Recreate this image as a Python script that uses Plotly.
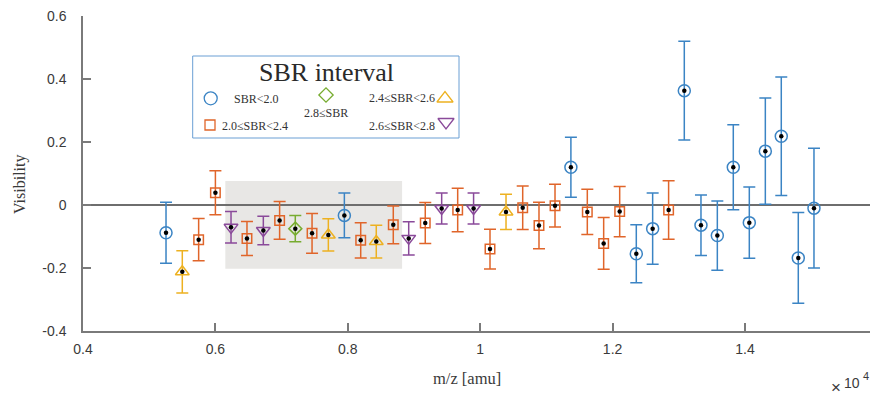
import plotly.graph_objects as go

# ---------------- data (m/z in amu, visibility, error) ----------------
sbr_lt20_mz = [5254, 7948, 11370, 12358, 12605, 13083, 13335, 13582, 13823, 14065, 14307, 14548, 14805, 15042]
sbr_lt20_vis = [-0.088, -0.033, 0.120, -0.155, -0.075, 0.363, -0.064, -0.097, 0.120, -0.056, 0.171, 0.218, -0.168, -0.010]
sbr_lt20_err = [0.097, 0.071, 0.095, 0.092, 0.113, 0.157, 0.096, 0.110, 0.135, 0.113, 0.169, 0.188, 0.144, 0.190]

sbr_20_24_mz = [5747, 6000, 6477, 6970, 7460, 8195, 8687, 9170, 9660, 10148, 10642, 10888, 11130, 11618, 11865, 12107, 12846]
sbr_20_24_vis = [-0.110, 0.039, -0.106, -0.049, -0.090, -0.112, -0.063, -0.057, -0.016, -0.140, -0.009, -0.065, -0.002, -0.022, -0.122, -0.021, -0.016]
sbr_20_24_err = [0.067, 0.070, 0.054, 0.060, 0.063, 0.056, 0.060, 0.065, 0.069, 0.063, 0.069, 0.074, 0.068, 0.072, 0.082, 0.080, 0.093]

sbr_24_26_mz = [5500, 7706, 8430, 10390]
sbr_24_26_vis = [-0.212, -0.095, -0.116, -0.022]
sbr_24_26_err = [0.067, 0.051, 0.052, 0.056]

sbr_26_28_mz = [6236, 6724, 8920, 9418, 9900]
sbr_26_28_vis = [-0.071, -0.081, -0.106, -0.011, -0.011]
sbr_26_28_err = [0.050, 0.045, 0.053, 0.049, 0.049]

sbr_ge28_mz = [7207]
sbr_ge28_vis = [-0.075]
sbr_ge28_err = [0.042]

highlight_mz = [6150, 8820]
highlight_vis = [-0.202, 0.076]

x_tick_vals = [4000, 6000, 8000, 10000, 12000, 14000]
x_tick_text = ["0.4", "0.6", "0.8", "1", "1.2", "1.4"]
y_tick_vals = [-0.4, -0.2, 0, 0.2, 0.4, 0.6]
y_tick_text = ["-0.4", "-0.2", "0", "0.2", "0.4", "0.6"]

legend_labels = ["SBR<2.0", "2.0≤SBR<2.4", "2.4≤SBR<2.6", "2.6≤SBR<2.8", "2.8≤SBR"]

# ---------------- styling ----------------
BLUE = "#3b84c4"
ORANGE = "#e0652a"
YELLOW = "#edb120"
PURPLE = "#8a4a9a"
GREEN = "#77ac30"
SERIF = "Liberation Serif"
SANS = "Liberation Sans"
AXIS = "#7a7a7a"
TXT = "#3a3a3a"

# page pixel geometry of the plotting area (page body has an 8px margin)
PX_L, PX_R, PX_T, PX_B = 83, 878, 16, 331


def px(xp):
    return (xp - PX_L) / (PX_R - PX_L)


def py(yp):
    return (PX_B - yp) / (PX_B - PX_T)


series = [
    (sbr_lt20_mz, sbr_lt20_vis, sbr_lt20_err, BLUE, "circle-open", 12),
    (sbr_20_24_mz, sbr_20_24_vis, sbr_20_24_err, ORANGE, "square-open", 9.5),
    (sbr_24_26_mz, sbr_24_26_vis, sbr_24_26_err, YELLOW, "triangle-up-open", 12),
    (sbr_26_28_mz, sbr_26_28_vis, sbr_26_28_err, PURPLE, "triangle-down-open", 12),
    (sbr_ge28_mz, sbr_ge28_vis, sbr_ge28_err, GREEN, "diamond-open", 10),
]

fig = go.Figure()

for (mx, vis, err, col, sym, sz), name in zip(series, legend_labels):
    fig.add_trace(go.Scatter(
        x=mx, y=vis, mode="markers", name=name, showlegend=False,
        marker=dict(symbol=sym, size=sz, color=col, line=dict(color=col, width=1.5)),
        error_y=dict(type="data", array=err, visible=True, color=col, thickness=1.5, width=6),
    ))
    fig.add_trace(go.Scatter(
        x=mx, y=vis, mode="markers", showlegend=False, hoverinfo="skip",
        marker=dict(symbol="circle", size=4.5, color="black"),
    ))

# highlighted region
fig.add_shape(type="rect", xref="x", yref="y",
              x0=highlight_mz[0], x1=highlight_mz[1], y0=highlight_vis[0], y1=highlight_vis[1],
              fillcolor="#e8e7e5", line=dict(width=0), layer="below")

# ---------------- manual legend (pixel coordinate overlay axes) ----------------
leg_items = [
    (210.7, 98.3, BLUE, "circle-open", 13),
    (210.0, 125.0, ORANGE, "square-open", 10),
    (445.0, 98.5, YELLOW, "triangle-up-open", 14),
    (446.0, 122.0, PURPLE, "triangle-down-open", 14),
    (326.0, 95.0, GREEN, "diamond-open", 11),
]
for lx, ly, col, sym, sz in leg_items:
    fig.add_trace(go.Scatter(
        x=[lx], y=[ly], xaxis="x2", yaxis="y2", mode="markers", showlegend=False,
        hoverinfo="skip",
        marker=dict(symbol=sym, size=sz, color=col, line=dict(color=col, width=1.3)),
    ))

fig.add_shape(type="rect", xref="paper", yref="paper", x0=px(192.7), x1=px(459), y0=py(138), y1=py(56),
              line=dict(color="#6a9fd4", width=1), fillcolor="rgba(255,255,255,0)", layer="below")

leg_font = dict(family=SERIF, size=12, color="#333333")


def note(x, y, text, font, xanchor="center", **kw):
    fig.add_annotation(x=px(x), y=py(y), xref="paper", yref="paper", text=text, showarrow=False,
                       font=font, xanchor=xanchor, yanchor="middle", borderpad=0, **kw)


note(326.5, 72, "SBR interval", dict(family=SERIF, size=26, color="#2a2a2a"))
note(233, 99, legend_labels[0], leg_font, "left")
note(220.5, 126, legend_labels[1], leg_font, "left")
note(436, 98.5, legend_labels[2], leg_font, "right")
note(436, 125.5, legend_labels[3], leg_font, "right")
note(325.5, 112.5, legend_labels[4], leg_font, "center")

# axis titles and exponent
note(467, 379, "m/z [amu]", dict(family=SERIF, size=16.5, color=TXT))
note(20, 184, "Visibility", dict(family=SERIF, size=16, color=TXT), textangle=-90)
note(836, 387, "×", dict(family=SANS, size=17, color=TXT))
note(843, 383, "10", dict(family=SANS, size=14, color=TXT), "left")
note(862, 376, "4", dict(family=SANS, size=11, color=TXT), "left")

fig.update_layout(
    width=870, height=388,
    margin=dict(l=PX_L - 8, r=0, t=PX_T - 8, b=396 - PX_B, autoexpand=False),
    paper_bgcolor="white", plot_bgcolor="white",
    showlegend=False,
    xaxis=dict(range=[4000, 16009], tickvals=x_tick_vals, ticktext=x_tick_text,
               showgrid=False, zeroline=False, showline=True, linecolor=AXIS, linewidth=1.5,
               ticks="inside", ticklen=8, tickcolor=AXIS, tickwidth=1.5, ticklabeloverflow="allow",
               tickfont=dict(family=SANS, size=14, color=TXT), ticklabelstandoff=4),
    yaxis=dict(range=[-0.4, 0.6], tickvals=y_tick_vals, ticktext=y_tick_text,
               showgrid=False, zeroline=True, zerolinecolor="#6e6e6e", zerolinewidth=1.5,
               showline=True, linecolor=AXIS, linewidth=1.5, ticklabeloverflow="allow",
               ticks="inside", ticklen=8, tickcolor=AXIS, tickwidth=1.5,
               tickfont=dict(family=SANS, size=14, color=TXT), ticklabelstandoff=12),
    xaxis2=dict(range=[PX_L, PX_R], overlaying="x", visible=False, fixedrange=True),
    yaxis2=dict(range=[PX_B, PX_T], overlaying="y", visible=False, fixedrange=True),
)

fig.write_html("out.html")
